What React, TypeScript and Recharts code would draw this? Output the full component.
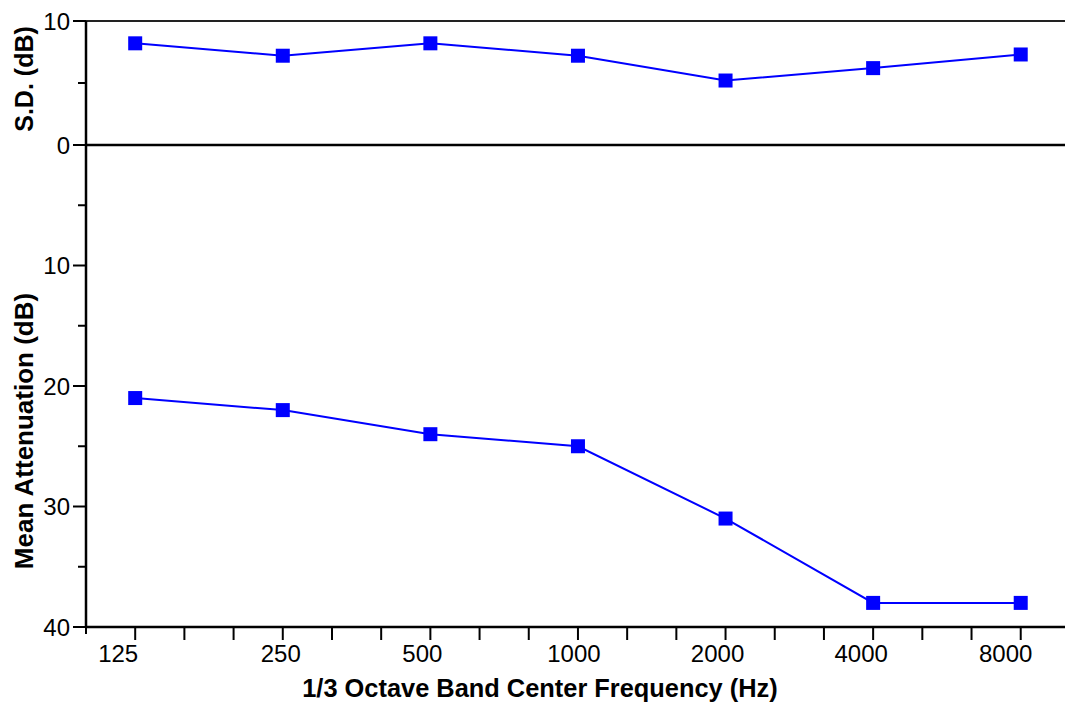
import React from 'react';
import { LineChart, Line, XAxis, YAxis, ReferenceLine, Label } from 'recharts';

// Band centre frequencies (Hz) and the two measured series
const FREQUENCIES = [125, 250, 500, 1000, 2000, 4000, 8000];
const SD_VALUES = [8.2, 7.2, 8.2, 7.2, 5.2, 6.2, 7.3];
const MEAN_ATTENUATION = [21, 22, 24, 25, 31, 38, 38];

// Y ticks: every 5 dB gets a mark, only these get a number
const SD_TICKS = [0, 5, 10];
const SD_LABELS = [0, 10];
const ATTEN_TICKS = [0, 5, 10, 15, 20, 25, 30, 35, 40];
const ATTEN_LABELS = [10, 20, 30, 40];

const THIRD = Math.pow(2, 1 / 3);
const X_DOMAIN = [125 / THIRD, 8000 * Math.pow(2, 0.3)];
// 1/3-octave tick marks around the labelled octave centres
const X_TICKS = [
  125 / THIRD,
  ...FREQUENCIES.flatMap((f) => (f === 8000 ? [f] : [f, f * THIRD, f * THIRD * THIRD])),
];
// the frequency labels sit a little left of their tick
const LABEL_NUDGE = [-17, -2, -8, -4, -8, -12, -15];

const sdData = FREQUENCIES.map((freq, i) => ({ freq, value: SD_VALUES[i] }));
const attenData = FREQUENCIES.map((freq, i) => ({ freq, value: MEAN_ATTENUATION[i] }));

const FONT = '"Liberation Sans", Arial, Helvetica, sans-serif';
const BLUE = '#0000ff';
const AXIS_X = 86;
const PLOT_BOTTOM = 627;
const WIDTH = 1065;

const SquareDot = (props: any) => {
  const { cx, cy, index } = props;
  if (cx == null || cy == null) return null;
  return <rect key={`sq-${index}`} x={cx - 7} y={cy - 7} width={14} height={14} fill={BLUE} />;
};

const makeYTick = (labels: number[]) => (props: any) => {
  const { y, payload } = props;
  const major = labels.includes(payload.value);
  const len = major ? 13 : 8;
  return (
    <g>
      <line x1={AXIS_X - len} x2={AXIS_X} y1={y} y2={y} stroke="#000" strokeWidth={2} />
      {major && (
        <text x={AXIS_X - 16} y={y + 8.5} textAnchor="end" fontSize={24} fontFamily={FONT} fill="#000">
          {payload.value}
        </text>
      )}
    </g>
  );
};

const FreqTick = (props: any) => {
  const { x, payload } = props;
  const idx = FREQUENCIES.findIndex((f) => Math.abs(f - payload.value) < 0.01);
  const len = payload.value < 125 ? 7 : 13;
  return (
    <g>
      <line x1={x} x2={x} y1={PLOT_BOTTOM} y2={PLOT_BOTTOM + len} stroke="#000" strokeWidth={2} />
      {idx >= 0 && (
        <text x={x + LABEL_NUDGE[idx]} y={662} textAnchor="middle" fontSize={24} fontFamily={FONT} fill="#000">
          {FREQUENCIES[idx]}
        </text>
      )}
    </g>
  );
};

const VerticalTitle = ({ text, cy, size }: { text: string; cy: number; size: number }) => (
  <text
    transform={`translate(33, ${cy}) rotate(-90)`}
    textAnchor="middle"
    fontSize={size}
    fontWeight="bold"
    fontFamily={FONT}
    fill="#000"
  >
    {text}
  </text>
);

export default function App() {
  return (
    <div style={{ position: 'absolute', left: 0, top: 0, width: WIDTH, height: 707, background: '#fff', fontFamily: FONT }}>
      {/* lower panel: mean attenuation, inverted scale, carries the frequency axis */}
      <div style={{ position: 'absolute', left: 0, top: 0 }}>
        <LineChart width={WIDTH} height={707} data={attenData} margin={{ top: 145, right: 0, bottom: 0, left: 0 }}>
          <XAxis
            dataKey="freq"
            type="number"
            scale="log"
            domain={X_DOMAIN}
            ticks={X_TICKS}
            interval={0}
            height={80}
            tickLine={false}
            tick={FreqTick}
            axisLine={{ stroke: '#000', strokeWidth: 2.5 }}
            allowDataOverflow
          >
            <Label
              content={() => (
                <text x={540} y={697} textAnchor="middle" fontSize={25.4} fontWeight="bold" fontFamily={FONT} fill="#000">
                  1/3 Octave Band Center Frequency (Hz)
                </text>
              )}
            />
          </XAxis>
          <YAxis
            width={AXIS_X}
            type="number"
            domain={[0, 40]}
            reversed
            ticks={ATTEN_TICKS}
            interval={0}
            tickLine={false}
            tick={makeYTick(ATTEN_LABELS)}
            axisLine={{ stroke: '#000', strokeWidth: 2.5 }}
          >
            <Label content={() => <VerticalTitle text="Mean Attenuation (dB)" cy={431} size={26} />} />
          </YAxis>
          <Line
            dataKey="value"
            stroke={BLUE}
            strokeWidth={2}
            dot={SquareDot}
            activeDot={false}
            isAnimationActive={false}
          />
        </LineChart>
      </div>

      {/* upper panel: standard deviation */}
      <div style={{ position: 'absolute', left: 0, top: 0 }}>
        <LineChart width={WIDTH} height={165} data={sdData} margin={{ top: 21, right: 0, bottom: 20, left: 0 }}>
          <XAxis dataKey="freq" type="number" scale="log" domain={X_DOMAIN} hide allowDataOverflow />
          <YAxis
            width={AXIS_X}
            type="number"
            domain={[0, 10]}
            ticks={SD_TICKS}
            interval={0}
            tickLine={false}
            tick={makeYTick(SD_LABELS)}
            axisLine={{ stroke: '#000', strokeWidth: 2.5 }}
          >
            <Label content={() => <VerticalTitle text="S.D. (dB)" cy={79} size={25} />} />
          </YAxis>
          <ReferenceLine y={10} stroke="#222" strokeWidth={2} />
          <ReferenceLine y={0} stroke="#000" strokeWidth={2.5} />
          <Line
            dataKey="value"
            stroke={BLUE}
            strokeWidth={2}
            dot={SquareDot}
            activeDot={false}
            isAnimationActive={false}
          />
        </LineChart>
      </div>
    </div>
  );
}
